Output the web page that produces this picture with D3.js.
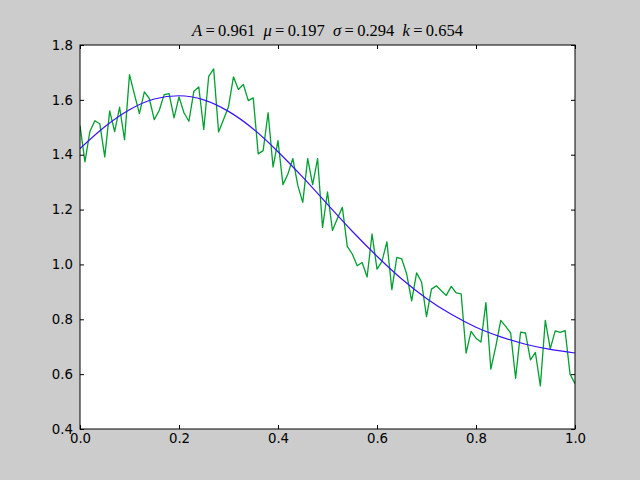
<!DOCTYPE html>
<html><head><meta charset="utf-8">
<script src="https://cdn.jsdelivr.net/npm/d3@7"></script>
<style>html,body{margin:0;padding:0;background:#cccccc;}svg{display:block;}</style>
</head><body>
<script>
const xTicks = [0.0, 0.2, 0.4, 0.6, 0.8, 1.0];
const yTicks = [0.4, 0.6, 0.8, 1.0, 1.2, 1.4, 1.6, 1.8];
const titleParts = [["A", true], ["\u2009=\u20090.961\u2002", false], ["\u03bc", true], ["\u2009=\u20090.197\u2002", false], ["\u03c3", true], ["\u2009=\u20090.294\u2002", false], ["k", true], ["\u2009=\u20090.654", false]];

const sampleX = [0.00,0.01,0.02,0.03,0.04,0.05,0.06,0.07,0.08,0.09,0.10,0.11,0.12,0.13,0.14,0.15,0.16,0.17,0.18,0.19,
0.20,0.21,0.22,0.23,0.24,0.25,0.26,0.27,0.28,0.29,0.30,0.31,0.32,0.33,0.34,0.35,0.36,0.37,0.38,0.39,
0.40,0.41,0.42,0.43,0.44,0.45,0.46,0.47,0.48,0.49,0.50,0.51,0.52,0.53,0.54,0.55,0.56,0.57,0.58,0.59,
0.60,0.61,0.62,0.63,0.64,0.65,0.66,0.67,0.68,0.69,0.70,0.71,0.72,0.73,0.74,0.75,0.76,0.77,0.78,0.79,
0.80,0.81,0.82,0.83,0.84,0.85,0.86,0.87,0.88,0.89,0.90,0.91,0.92,0.93,0.94,0.95,0.96,0.97,0.98,0.99,1.00];
const noisyY = [1.506,1.374,1.485,1.524,1.513,1.392,1.560,1.484,1.573,1.455,1.692,1.620,1.550,1.629,1.605,1.528,1.561,1.619,1.623,1.534,
1.611,1.553,1.522,1.631,1.647,1.492,1.686,1.713,1.483,1.528,1.575,1.684,1.638,1.656,1.597,1.607,1.403,1.415,1.553,1.355,
1.451,1.291,1.330,1.386,1.288,1.226,1.386,1.291,1.386,1.135,1.264,1.124,1.167,1.208,1.066,1.038,0.995,1.007,0.954,1.111,
0.983,1.011,1.082,0.908,1.026,1.020,0.965,0.867,0.969,0.936,0.810,0.910,0.922,0.904,0.887,0.920,0.896,0.893,0.677,0.756,
0.731,0.717,0.861,0.618,0.701,0.796,0.774,0.750,0.585,0.753,0.750,0.652,0.679,0.557,0.796,0.692,0.758,0.752,0.759,0.600,0.565];

const fitX = [0.00,0.05,0.10,0.15,0.20,0.25,0.30,0.35,0.40,0.45,0.50,0.55,0.60,0.65,0.70,0.75,0.80,0.85,0.90,0.95,1.00];
const fitY = [1.422,1.502,1.564,1.603,1.615,1.600,1.558,1.494,1.411,1.318,1.219,1.121,1.030,0.947,0.876,0.818,0.771,0.736,0.709,0.690,0.677];

const W = 640, H = 480;
const L = 80, R = 575, T = 45, B = 429;

const svg = d3.select("body").append("svg").attr("width", W).attr("height", H);
svg.append("rect").attr("width", W).attr("height", H).attr("fill", "#cccccc");
svg.append("rect").attr("x", L).attr("y", T).attr("width", R - L).attr("height", B - T).attr("fill", "#ffffff");

const x = d3.scaleLinear().domain([0, 1]).range([L, R]);
const y = d3.scaleLinear().domain([0.4, 1.8]).range([B, T]);

svg.append("defs").append("clipPath").attr("id", "clip")
  .append("rect").attr("x", L).attr("y", T).attr("width", R - L).attr("height", B - T);

const g = svg.append("g").attr("clip-path", "url(#clip)");

const lineNoisy = d3.line().x((d, i) => x(sampleX[i])).y(d => y(d));
g.append("path").datum(noisyY).attr("d", lineNoisy)
  .attr("fill", "none").attr("stroke", "#00a030").attr("stroke-width", 1.3).attr("stroke-linejoin", "round");

const lineFit = d3.line().x((d, i) => x(fitX[i])).y(d => y(d)).curve(d3.curveMonotoneX);
g.append("path").datum(fitY).attr("d", lineFit)
  .attr("fill", "none").attr("stroke", "#3a10ff").attr("stroke-width", 1.2);

const fmt = d3.format(".1f");
const font = "DejaVu Sans, sans-serif";

function styleAxis(sel, showText) {
  sel.select(".domain").remove();
  sel.selectAll(".tick line").attr("stroke", "#000").attr("stroke-width", 1);
  sel.selectAll(".tick text").attr("fill", "#000").style("font-family", font).style("font-size", "13.3px");
  if (!showText) sel.selectAll(".tick text").remove();
}

const axB = svg.append("g").attr("transform", `translate(0,${B})`)
  .call(d3.axisBottom(x).tickValues(xTicks).tickFormat(fmt).tickSizeInner(-4).tickSizeOuter(0).tickPadding(5));
styleAxis(axB, true);
const axT = svg.append("g").attr("transform", `translate(0,${T})`)
  .call(d3.axisTop(x).tickValues(xTicks).tickSizeInner(-4).tickSizeOuter(0));
styleAxis(axT, false);
const axL = svg.append("g").attr("transform", `translate(${L},0)`)
  .call(d3.axisLeft(y).tickValues(yTicks).tickFormat(fmt).tickSizeInner(-4).tickSizeOuter(0).tickPadding(7));
styleAxis(axL, true);
const axR = svg.append("g").attr("transform", `translate(${R},0)`)
  .call(d3.axisRight(y).tickValues(yTicks).tickSizeInner(-4).tickSizeOuter(0));
styleAxis(axR, false);

svg.append("rect").attr("x", L).attr("y", T).attr("width", R - L).attr("height", B - T)
  .attr("fill", "none").attr("stroke", "#000").attr("stroke-width", 1);

const title = svg.append("text").attr("x", (L + R) / 2).attr("y", 36)
  .attr("text-anchor", "middle").style("font-family", "Liberation Serif, serif").style("font-size", "16.5px")
  .attr("xml:space", "preserve");
titleParts.forEach(p => {
  title.append("tspan").text(p[0]).style("font-style", p[1] ? "italic" : "normal");
});
</script>
</body></html>
